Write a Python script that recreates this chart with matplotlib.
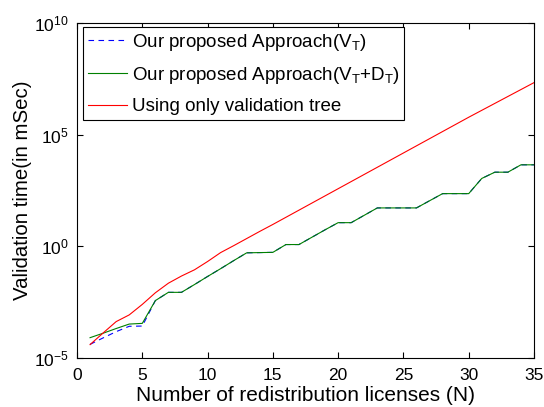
import matplotlib
matplotlib.use('Agg')
import matplotlib.pyplot as plt
import numpy as np

plt.rcParams['font.family'] = ['Liberation Sans', 'DejaVu Sans']
plt.rcParams['mathtext.fontset'] = 'custom'
plt.rcParams['mathtext.rm'] = 'Liberation Sans'
plt.rcParams['mathtext.it'] = 'Liberation Sans:italic'

# number of licenses
n = np.arange(1, 36)

# values as log10(time in ms)
log_vt = [-4.39, -4.10, -3.82, -3.58, -3.57, -2.43, -2.06, -2.06, -1.71, -1.35,
          -1.00, -0.64, -0.29, -0.28, -0.27, 0.08, 0.08, 0.41, 0.74, 1.06,
          1.06, 1.39, 1.72, 1.72, 1.72, 1.72, 2.04, 2.36, 2.36, 2.36,
          3.04, 3.32, 3.32, 3.65, 3.65]
log_vt_dt = [-4.09, -3.89, -3.68, -3.48, -3.45, -2.43, -2.06, -2.06, -1.71, -1.35,
             -1.00, -0.64, -0.29, -0.28, -0.27, 0.08, 0.08, 0.41, 0.74, 1.06,
             1.06, 1.39, 1.72, 1.72, 1.72, 1.72, 2.04, 2.36, 2.36, 2.36,
             3.04, 3.32, 3.32, 3.65, 3.65]
log_tree = [-4.40, -3.88, -3.37, -3.07, -2.60, -2.08, -1.65, -1.33, -1.05, -0.68,
            -0.28, 0.03, 0.35, 0.67, 0.98, 1.30, 1.62, 1.94, 2.26, 2.58,
            2.90, 3.22, 3.54, 3.86, 4.18, 4.50, 4.82, 5.14, 5.46, 5.78,
            6.09, 6.40, 6.71, 7.02, 7.33]

labels = ['Our proposed Approach(V$_\\mathregular{T}$)',
          'Our proposed Approach(V$_\\mathregular{T}$+D$_\\mathregular{T}$)',
          'Using only validation tree']

fig = plt.figure(figsize=(5.44, 4.07), dpi=100)
ax = fig.add_axes([77/544, 1 - 358/407, (534-77)/544, (358-23)/407])

ax.semilogy(n, 10.0**np.array(log_vt), '--', color='b', lw=0.8, dashes=(5, 4), label=labels[0])
ax.semilogy(n, 10.0**np.array(log_vt_dt), '-', color=(0, 0.5, 0), lw=0.8, label=labels[1])
ax.semilogy(n, 10.0**np.array(log_tree), '-', color='r', lw=0.8, label=labels[2])

ax.set_xlim(0, 35)
ax.set_ylim(1e-5, 1e10)
ax.set_xticks(range(0, 36, 5))
ax.set_yticks([1e-5, 1e0, 1e5, 1e10])
ax.yaxis.set_minor_locator(matplotlib.ticker.NullLocator())
ax.tick_params(direction='in', top=True, right=True, labelsize=12.5, length=4, width=0.8)
ax.tick_params(axis='x', pad=7)
ax.tick_params(axis='y', pad=6)
for s in ax.spines.values():
    s.set_linewidth(0.8)

ax.set_xlabel('Number of redistribution licenses (N)', fontsize=15)
ax.set_ylabel('Validation time(in mSec)', fontsize=14.7)
ax.xaxis.set_label_coords(0.5, -0.083)
ax.yaxis.set_label_coords(-0.098, 0.5)

leg = ax.legend(loc='upper left', bbox_to_anchor=(6/457, 1 - 4/335), borderaxespad=0,
                fontsize=13.5, fancybox=False, edgecolor='k', framealpha=1,
                handlelength=2.1, labelspacing=0.65, borderpad=0.25,
                handletextpad=0.25)
leg.get_frame().set_linewidth(0.8)

fig.savefig('out.png', dpi=100)
